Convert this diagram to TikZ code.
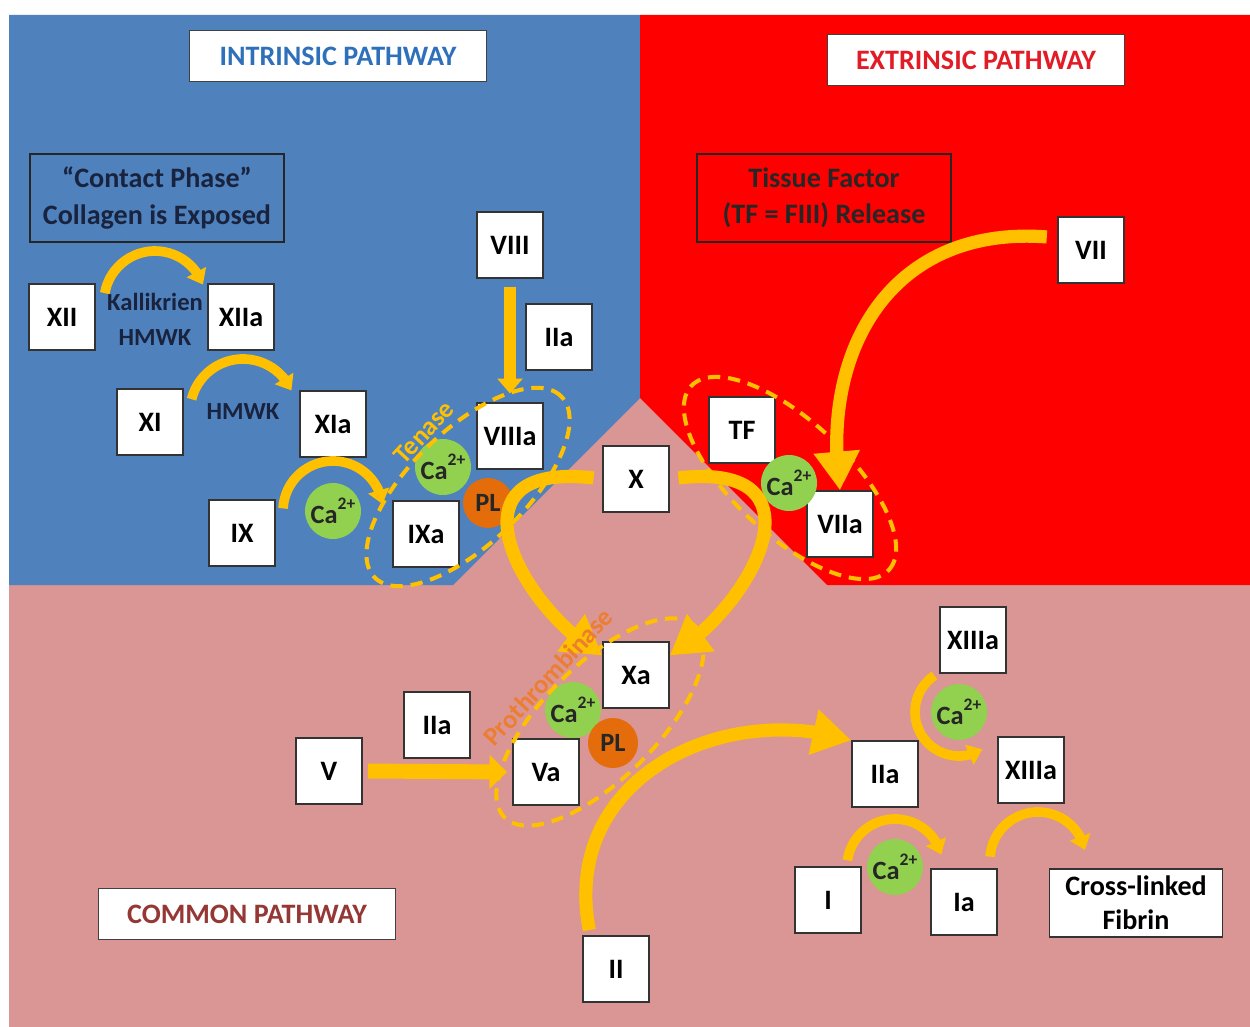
\documentclass[tikz,border=0pt]{standalone}
\usepackage{fontspec}
\setmainfont{Carlito}
\usetikzlibrary{arrows.meta,bending}

\definecolor{intrblue}{RGB}{79,129,189}
\definecolor{extrred}{RGB}{255,0,0}
\definecolor{commpink}{RGB}{217,150,148}
\definecolor{gold}{RGB}{255,192,0}
\definecolor{cagreen}{RGB}{146,208,80}
\definecolor{plorange}{RGB}{228,108,10}
\definecolor{intrtext}{RGB}{46,112,185}
\definecolor{extrtext}{RGB}{226,28,38}
\definecolor{commtext}{RGB}{149,55,53}
\definecolor{protext}{RGB}{237,125,49}
\definecolor{navytext}{RGB}{25,35,62}

\newcommand{\calcium}{Ca\raisebox{1.1ex}{\fontsize{10}{10}\selectfont 2+}}

\begin{document}
\begin{tikzpicture}
[
 x=0.02cm, y=0.02cm,
 inner sep=0.5mm,
 FACTOR/.style={rectangle, draw=black!80, fill=white, line width=0.8pt, minimum size=1.32cm, font=\bfseries\fontsize{16}{19}\selectfont},
 TITLE/.style={rectangle, draw=black!75, fill=white, line width=0.8pt, minimum width=5.95cm, minimum height=1.02cm, font=\bfseries\fontsize{16}{19}\selectfont},
 NOTE/.style={rectangle, draw=black!85, line width=0.8pt, align=center, minimum width=5.08cm, minimum height=1.76cm, font=\bfseries\fontsize{16}{20.5}\selectfont},
 CALC/.style={circle, fill=cagreen, inner sep=0pt, minimum size=1.12cm, text=black!85, font=\bfseries\fontsize{15}{17}\selectfont},
 LIPID/.style={circle, fill=plorange, inner sep=0pt, minimum size=1.0cm, text=black!85, font=\bfseries\fontsize{15}{17}\selectfont},
 COFACT/.style={text=navytext, font=\bfseries\fontsize{14}{16}\selectfont},
 ENZYME/.style={font=\bfseries\fontsize{15}{17}\selectfont},
 COMPLEX/.style={draw=gold, line width=2.3pt, dash pattern=on 7pt off 4.5pt},
 FLOW/.style={draw=gold, line width=7.5pt, -{Triangle[length=22pt,width=25pt]}},
 PUSH/.style={draw=gold, line width=8.5pt, -{Triangle[length=10pt,width=19pt]}, shorten <=3pt, shorten >=3pt},
 DROP/.style={draw=gold, line width=6.8pt, -{Triangle[length=8.5pt,width=14pt]}, shorten <=5pt, shorten >=5pt},
 SPIN/.style={draw=gold, line width=5.5pt, -{Triangle[length=8pt,width=12pt]}},
 ]
%
\useasboundingbox (0,0) rectangle (1250,-1027);
\fill [white]    (0,0) rectangle (1250,-1027);
\fill [commpink] (9,-15) rectangle (1250,-1027);
\fill [intrblue] (9,-15) -- (640,-15) -- (640,-398) -- (453,-585) -- (9,-585) -- cycle;
\fill [extrred]  (640,-15) -- (1250,-15) -- (1250,-585) -- (827,-585) -- (640,-398) -- cycle;
%
\node [TITLE, text=intrtext]  (INTR)    at ( 338, -56)  {INTRINSIC PATHWAY};
\node [TITLE, text=extrtext]  (EXTR)    at ( 976, -60)  {EXTRINSIC PATHWAY};
\node [TITLE, text=commtext]  (COMM)    at ( 247,-914)  {COMMON PATHWAY};
\node [NOTE, text=navytext]   (CONTACT) at ( 157,-198)  {“Contact Phase”\\Collagen is Exposed};
\node [NOTE, text=black!85]   (TISSUE)  at ( 824,-198)  {Tissue Factor\\(TF = FIII) Release};
%
\node [FACTOR]  (XII)    at (  62,-317)  {XII};
\node [FACTOR]  (XIIa)   at ( 241,-317)  {XIIa};
\node [FACTOR]  (XI)     at ( 150,-422)  {XI};
\node [FACTOR]  (XIa)    at ( 333,-424)  {XIa};
\node [FACTOR]  (IX)     at ( 242,-533)  {IX};
\node [FACTOR]  (IXa)    at ( 426,-534)  {IXa};
\node [FACTOR]  (VIII)   at ( 510,-245)  {VIII};
\node [FACTOR]  (IIaT)   at ( 559,-337)  {IIa};
\node [FACTOR]  (VIIIa)  at ( 510,-436)  {VIIIa};
\node [COFACT]  (KALL)   at ( 155,-302)  {Kallikrien};
\node [COFACT]  (HMWKA)  at ( 155,-338)  {HMWK};
\node [COFACT]  (HMWKB)  at ( 243,-412)  {HMWK};
\node [CALC]    (CaIX)   at ( 333,-511)  {\calcium};
\node [CALC]    (CaTEN)  at ( 443,-467)  {\calcium};
\node [LIPID]   (PLTEN)  at ( 488,-503)  {PL};
%
\node [FACTOR]  (VII)    at (1091,-250)  {VII};
\node [FACTOR]  (TF)     at ( 742,-430)  {TF};
\node [FACTOR]  (VIIa)   at ( 840,-524)  {VIIa};
\node [CALC]    (CaTF)   at ( 789,-483)  {\calcium};
%
\node [FACTOR]  (X)      at ( 636,-479)  {X};
\node [FACTOR]  (Xa)     at ( 636,-675)  {Xa};
\node [FACTOR]  (V)      at ( 329,-771)  {V};
\node [FACTOR]  (IIaM)   at ( 437,-725)  {IIa};
\node [FACTOR]  (Va)     at ( 546,-772)  {Va};
\node [CALC]    (CaPRO)  at ( 573,-710)  {\calcium};
\node [LIPID]   (PLPRO)  at ( 613,-743)  {PL};
\node [FACTOR]  (II)     at ( 616,-969)  {II};
\node [FACTOR]  (IIaR)   at ( 885,-774)  {IIa};
\node [FACTOR]  (XIIIaT) at ( 973,-640)  {XIIIa};
\node [CALC]    (CaXIII) at ( 959,-712)  {\calcium};
\node [FACTOR]  (XIIIaB) at (1031,-770)  {XIIIa};
\node [FACTOR]  (I)      at ( 828,-900)  {I};
\node [CALC]    (CaI)    at ( 895,-867)  {\calcium};
\node [FACTOR]  (Ia)     at ( 964,-902)  {Ia};
\node [FACTOR, minimum width=3.46cm, minimum height=1.36cm, align=center, font=\bfseries\fontsize{16}{19.4}\selectfont]
                (FIBRIN) at (1136,-903)  {Cross-linked\\Fibrin};
\coordinate     (XLINK)  at (1038,-860);
%
\draw [COMPLEX, rotate around={44:(468,-487)}]  (468,-487) ellipse [x radius=130, y radius=57];
\draw [COMPLEX, rotate around={-43:(790,-478)}] (790,-478) ellipse [x radius=135, y radius=57];
\draw [COMPLEX, rotate around={45:(600,-722)}]  (600,-722) ellipse [x radius=135, y radius=57];
%
\draw [SPIN]  (KALL)   ++(170:51) arc [start angle=170, end angle=20,  radius=51];
\draw [SPIN]  (HMWKB)  ++(166:53) arc [start angle=166, end angle=24,  radius=53];
\draw [SPIN]  (CaIX)   ++(177:50) arc [start angle=177, end angle=8,   radius=50];
\draw [SPIN]  (CaXIII) ++(124:44) arc [start angle=124, end angle=302, radius=44];
\draw [SPIN]  (CaI)    ++(172:48) arc [start angle=172, end angle=15,  radius=48];
\draw [SPIN]  (XLINK)  ++(176:48) arc [start angle=176, end angle=12,  radius=48];
%
\draw [DROP]  (VIII.south) -- (VIIIa.north);
\draw [PUSH]  (V.east)     -- (Va.west);
\draw [FLOW, shorten <=6pt]  (VII.160) .. controls (890,-225) and (820,-350) .. (VIIa.north);
\draw [FLOW, shorten <=5pt]  (X.west)  .. controls (440,-460) and (520,-608) .. (Xa.150);
\draw [FLOW, shorten <=5pt]  (X.east)  .. controls (832,-460) and (752,-608) .. (Xa.30);
\draw [FLOW]  ([xshift=4pt,yshift=3pt]II.north west) .. controls (560,-780) and (720,-700) .. (IIaR.north west);
%
\node [ENZYME, text=gold, rotate=47]    (TENASE) at (424,-432)  {Tenase};
\node [ENZYME, text=protext, rotate=47] (PROTH)  at (548,-677)  {Prothrombinase};
%
\end{tikzpicture}
\end{document}
